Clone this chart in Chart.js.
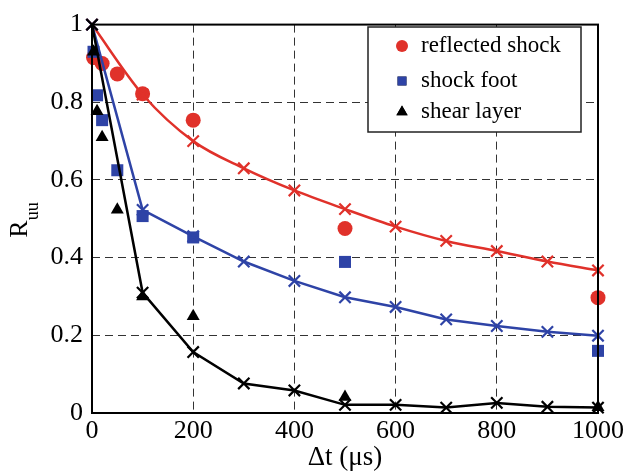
<!DOCTYPE html>
<html>
<head>
<meta charset="utf-8">
<script src="https://cdn.jsdelivr.net/npm/chart.js@4.4.1/dist/chart.umd.min.js"></script>
<style>
  html, body { margin: 0; padding: 0; background: #fff; }
  #wrap { width: 627px; height: 474px; }
</style>
</head>
<body>
<div id="wrap"><canvas id="myChart" width="627" height="474"></canvas></div>
<script>
// fitted curves, sampled every 100 us
var times = [0, 100, 200, 300, 400, 500, 600, 700, 800, 900, 1000];
var reflectedFit = [1.0, 0.82, 0.70, 0.63, 0.573, 0.525, 0.48, 0.443, 0.417, 0.39, 0.367];
var footFit = [1.0, 0.523, 0.455, 0.39, 0.34, 0.298, 0.273, 0.241, 0.224, 0.209, 0.199];
var shearFit = [1.0, 0.31, 0.157, 0.076, 0.058, 0.021, 0.021, 0.014, 0.026, 0.016, 0.014];

// measured points
var reflectedT = [3, 20, 50, 100, 200, 500, 1000];
var reflectedR = [0.915, 0.90, 0.873, 0.822, 0.754, 0.475, 0.297];
var footT = [3, 10, 20, 50, 100, 200, 500, 1000];
var footR = [0.93, 0.818, 0.754, 0.625, 0.507, 0.452, 0.389, 0.16];
var shearT = [3, 10, 20, 50, 100, 200, 500, 1000];
var shearR = [0.93, 0.777, 0.71, 0.523, 0.30, 0.249, 0.041, 0.015];

var xTicks = ['0', '200', '400', '600', '800', '1000'];
var yTicks = ['0', '0.2', '0.4', '0.6', '0.8', '1'];

var RED = '#e0312a';
var BLUE = '#2e43a6';
var BLACK = '#000';
var SERIF = '"Liberation Serif", "DejaVu Serif", serif';

function pts(xs, ys) {
    return xs.map(function (x, i) { return { x: x, y: ys[i] }; });
}

function fitLine(ys, color, order, smooth) {
    return {
        type: 'line',
        data: pts(times, ys),
        borderColor: color,
        backgroundColor: color,
        borderWidth: 2.5,
        pointStyle: 'crossRot',
        pointRadius: 8,
        pointBorderWidth: 2.2,
        pointBorderColor: color,
        cubicInterpolationMode: smooth ? 'monotone' : 'default',
        fill: false,
        clip: false,
        order: order
    };
}

function marks(label, xs, ys, color, style, radius, legendRadius, order) {
    return {
        type: 'scatter',
        label: label,
        data: pts(xs, ys),
        backgroundColor: color,
        borderColor: color,
        borderWidth: 0,
        pointStyle: style,
        pointRadius: radius,
        legendRadius: legendRadius,
        clip: false,
        order: order
    };
}

var datasets = [
    marks('reflected shock', reflectedT, reflectedR, RED, 'circle', 7.5, 6, 6),
    marks('shock foot', footT, footR, BLUE, 'rect', 8.5, 6.3, 5),
    marks('shear layer', shearT, shearR, BLACK, 'triangle', 7.5, 6.5, 1),
    fitLine(reflectedFit, RED, 4, true),
    fitLine(footFit, BLUE, 3, false),
    fitLine(shearFit, BLACK, 2, false)
];

// box around the plot area, y title with subscript, and the legend box
var framePlugin = {
    id: 'frame',
    afterDatasetsDraw: function (chart) {
        var c = chart.ctx, a = chart.chartArea;
        c.save();
        c.strokeStyle = '#000';
        c.lineWidth = 2;
        c.strokeRect(a.left, a.top, a.right - a.left, a.bottom - a.top);

        // y axis title: R_uu
        c.translate(20, 220);
        c.rotate(-Math.PI / 2);
        c.fillStyle = '#000';
        c.textBaseline = 'alphabetic';
        c.font = '26px ' + SERIF;
        var w = c.measureText('R').width;
        c.font = '18px ' + SERIF;
        var ws = c.measureText('uu').width;
        var x0 = -(w + ws) / 2;
        c.font = '26px ' + SERIF;
        c.fillText('R', x0, 7);
        c.font = '18px ' + SERIF;
        c.fillText('uu', x0 + w, 18);
        c.restore();

        // legend
        c.save();
        var bx = 368, by = 27, bw = 213, bh = 105;
        c.fillStyle = '#fff';
        c.fillRect(bx, by, bw, bh);
        c.strokeStyle = '#222';
        c.lineWidth = 1.5;
        c.strokeRect(bx, by, bw, bh);
        var rows = [46, 81, 112];
        c.font = '23px ' + SERIF;
        c.textBaseline = 'middle';
        for (var i = 0; i < 3; i++) {
            var ds = chart.data.datasets[i];
            Chart.helpers.drawPoint(c, {
                pointStyle: ds.pointStyle, radius: ds.legendRadius, borderWidth: 0
            }, 402, rows[i]);
            c.fillStyle = ds.backgroundColor;
            c.fill();
            c.fillStyle = '#000';
            c.fillText(ds.label, 421, rows[i]);
        }
        c.restore();
    }
};

var ctx = document.getElementById('myChart').getContext('2d');
var myChart = new Chart(ctx, {
    data: { datasets: datasets },
    options: {
        responsive: false,
        animation: false,
        layout: { padding: { top: 19, right: 27, left: 0, bottom: 0 } },
        plugins: { legend: { display: false }, tooltip: { enabled: false } },
        scales: {
            x: {
                type: 'linear',
                min: 0,
                max: 1000,
                afterFit: function (s) { s.height = 61; },
                afterBuildTicks: function (s) {
                    s.ticks = xTicks.map(function (t) { return { value: Number(t) }; });
                },
                ticks: {
                    color: '#000',
                    font: { family: SERIF, size: 26 },
                    padding: 3,
                    maxRotation: 0,
                    callback: function (v, i) { return xTicks[i]; }
                },
                grid: {
                    color: function (c) {
                        return (c.tick && (c.tick.value === 0 || c.tick.value === 1000)) ? 'rgba(0,0,0,0)' : '#333';
                    },
                    lineWidth: 1,
                    drawTicks: false
                },
                border: { display: false, dash: [8, 5] },
                title: {
                    display: true,
                    text: 'Δt (μs)',
                    color: '#000',
                    font: { family: SERIF, size: 27 },
                    padding: { top: 0, bottom: 0 }
                }
            },
            y: {
                type: 'linear',
                min: 0,
                max: 1,
                afterFit: function (s) { s.width = 92; },
                afterBuildTicks: function (s) {
                    s.ticks = yTicks.map(function (t) { return { value: Number(t) }; });
                },
                ticks: {
                    color: '#000',
                    font: { family: SERIF, size: 26 },
                    padding: 9,
                    callback: function (v, i) { return yTicks[i]; }
                },
                grid: {
                    color: function (c) {
                        return (c.tick && (c.tick.value === 0 || c.tick.value === 1)) ? 'rgba(0,0,0,0)' : '#333';
                    },
                    lineWidth: 1,
                    drawTicks: false
                },
                border: { display: false, dash: [8, 5] }
            }
        }
    },
    plugins: [framePlugin]
});
</script>
</body>
</html>
